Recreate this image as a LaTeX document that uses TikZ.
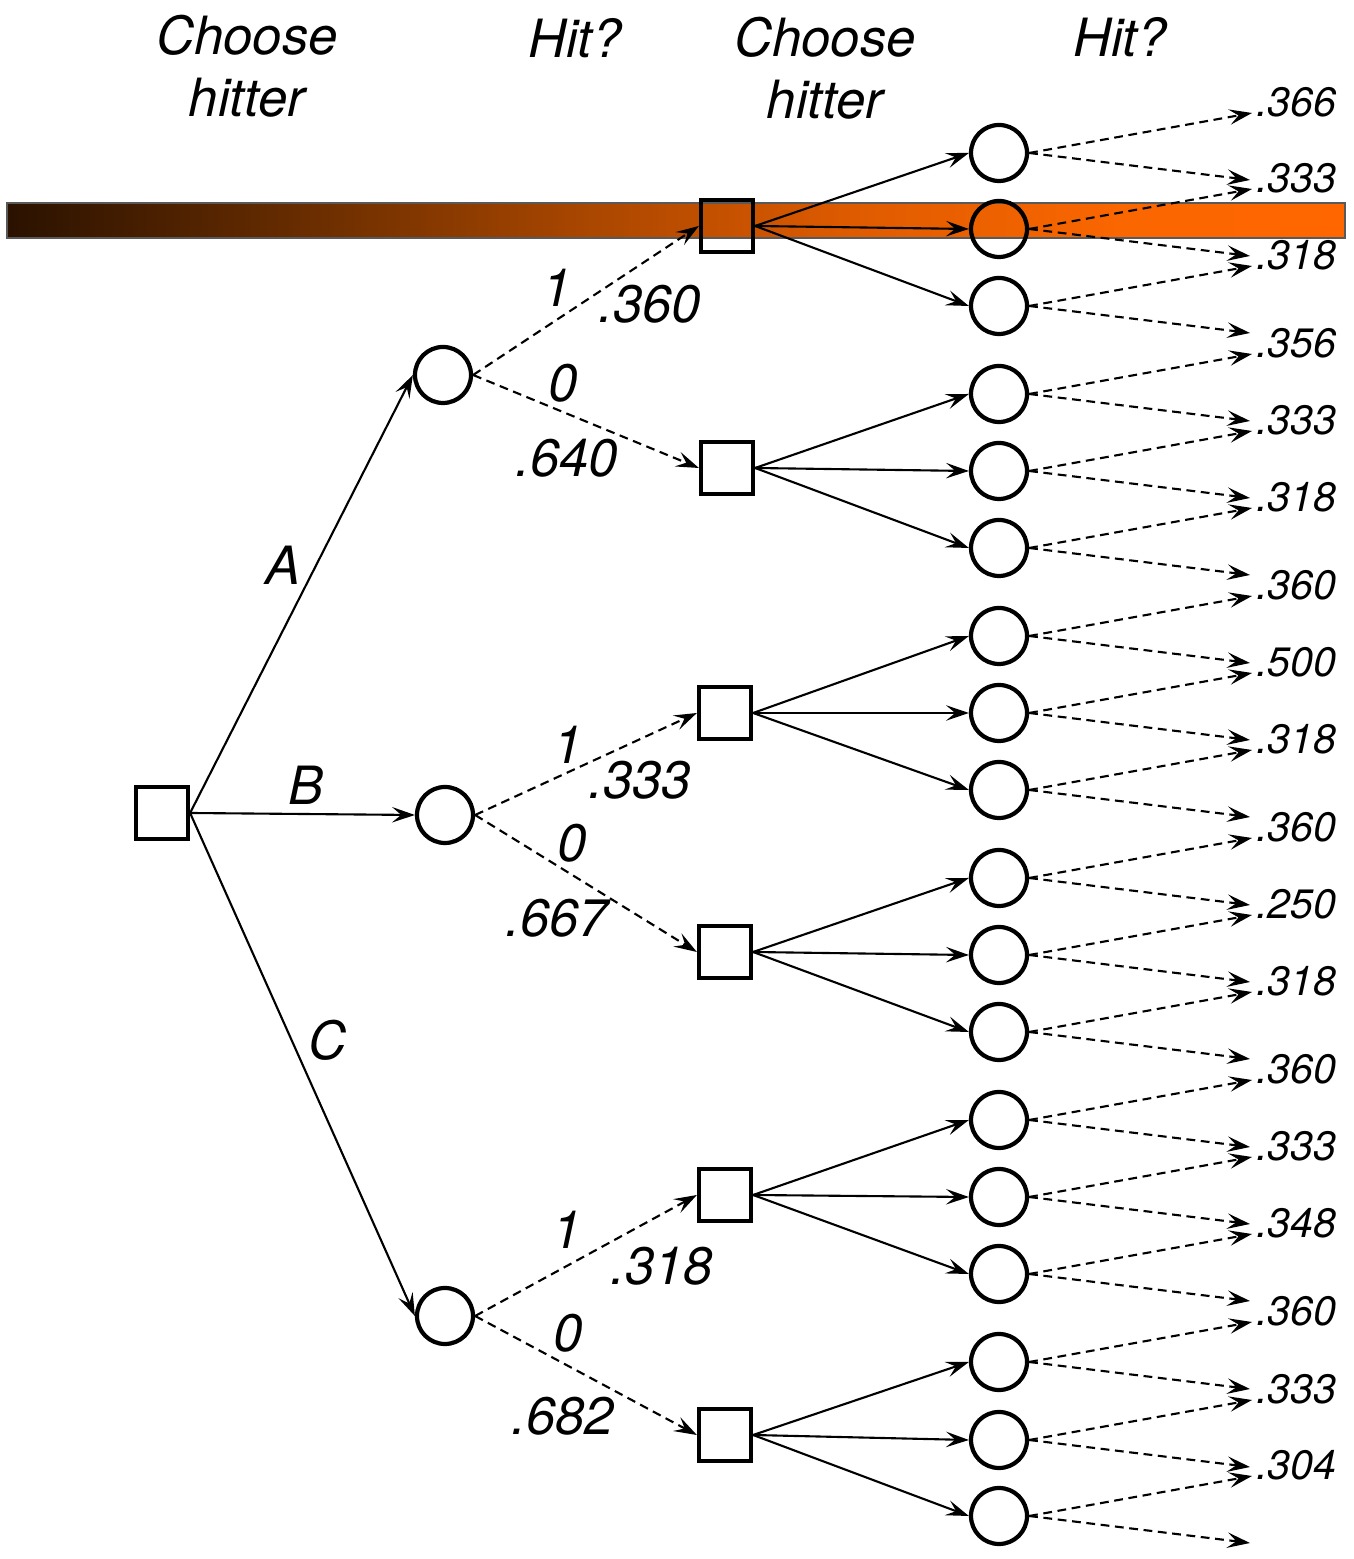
\documentclass[tikz,border=0pt]{standalone}
\usepackage{fontspec}
\setmainfont{TeX Gyre Heros}
\usetikzlibrary{arrows.meta}

% Farbverlauf fuer den Balken: dunkelbraun nach orange (Pfad liegt zwischen 25bp und 75bp)
\pgfdeclarehorizontalshading{balken}{100bp}{rgb(0bp)=(0.165,0.07,0); rgb(25bp)=(0.165,0.07,0); rgb(36.5bp)=(0.42,0.18,0); rgb(46.5bp)=(0.66,0.275,0); rgb(57bp)=(0.88,0.36,0); rgb(66.5bp)=(0.98,0.40,0); rgb(75bp)=(1,0.40,0); rgb(100bp)=(1,0.40,0)}

\tikzset{
  entscheid/.style={draw, rectangle, minimum size=0.52cm, inner sep=0pt, line width=1.2pt},
  zufall/.style={draw, circle, minimum size=0.56cm, inner sep=0pt, line width=1.2pt},
  gestr/.style={dash pattern=on 2.5pt off 1.6pt},
  kopf/.style={font=\fontsize{15}{17.6}\selectfont\itshape, align=center},
  kante/.style={font=\fontsize{15}{18}\selectfont\itshape, inner sep=0pt},
  wert/.style={font=\fontsize{11.7}{14}\selectfont\itshape, inner sep=0pt, anchor=west}
}

\begin{document}
\begin{tikzpicture}[>={Stealth[length=6.5pt,width=4.4pt,inset=2.6pt]}, line width=0.6pt]
\useasboundingbox (0,0) rectangle (13.53,15.59);

% Balken hinter dem oberen Ast
\shadedraw[shading=balken, draw=black!65, line width=0.4pt] (0.07,13.21) rectangle (13.45,13.56);

% Spaltenueberschriften
\node[kopf] (k1) at (2.47,14.93) {Choose\\hitter};
\node[kopf] (k2) at (5.75,15.21) {Hit?};
\node[kopf] (k3) at (8.25,14.91) {Choose\\hitter};
\node[kopf] (k4) at (11.20,15.22) {Hit?};

% erste Wahl und Treffer
\node[entscheid] (root) at (1.62,7.46) {};
\node[zufall] (h1) at (4.43,11.84) {};
\node[zufall] (h2) at (4.45,7.44) {};
\node[zufall] (h3) at (4.45,2.43) {};

% zweite Wahl
\node[entscheid] (s1) at (7.27,13.33) {};
\node[entscheid] (s2) at (7.27,10.91) {};
\node[entscheid] (s3) at (7.25,8.46) {};
\node[entscheid] (s4) at (7.25,6.07) {};
\node[entscheid] (s5) at (7.25,3.64) {};
\node[entscheid] (s6) at (7.25,1.24) {};

\draw[->] (root.east) -- (h1.west);
\draw[->] (root.east) -- (h2.west);
\draw[->] (root.east) -- (h3.west);
\node[kante] (lA) at (2.83,9.94) {A};
\node[kante] (lB) at (3.06,7.74) {B};
\node[kante] (lC) at (3.28,5.19) {C};

\draw[->, gestr] (h1.east) -- (s1.west);
\draw[->, gestr] (h1.east) -- (s2.west);
\draw[->, gestr] (h2.east) -- (s3.west);
\draw[->, gestr] (h2.east) -- (s4.west);
\draw[->, gestr] (h3.east) -- (s5.west);
\draw[->, gestr] (h3.east) -- (s6.west);

\node[kante] (e1) at (5.57,12.71) {1};
\node[kante] (p1) at (6.50,12.55) {.360};
\node[kante] (n1) at (5.63,11.76) {0};
\node[kante] (q1) at (5.67,11.01) {.640};
\node[kante] (e2) at (5.68,8.14) {1};
\node[kante] (p2) at (6.40,7.79) {.333};
\node[kante] (n2) at (5.72,7.16) {0};
\node[kante] (q2) at (5.57,6.41) {.667};
\node[kante] (e3) at (5.67,3.29) {1};
\node[kante] (p3) at (6.62,2.93) {.318};
\node[kante] (n3) at (5.68,2.26) {0};
\node[kante] (q3) at (5.63,1.43) {.682};

% letzte Treffer-Knoten mit ihren Enden
\foreach \y [count=\i] in {14.06,13.30,12.53,11.65,10.88,10.11,9.23,8.46,7.69,6.81,6.04,5.27,4.39,3.62,2.85,1.97,1.19,0.43} {
  \node[zufall] (c\i) at (9.99,\y) {};
  \coordinate (o\i) at (12.52,\y+0.40);
  \coordinate (u\i) at (12.50,\y-0.27);
  \draw[->, gestr] (c\i.east) -- (o\i);
  \draw[->, gestr] (c\i.east) -- (u\i);
}

\foreach \k in {1,...,6}
  \foreach \j in {0,1,2} {
    \pgfmathtruncatemacro{\n}{3*\k-2+\j}
    \draw[->] (s\k.east) -- (c\n.west);
  }

% Trefferquoten an den Pfeilspitzen
\foreach \p [count=\i] in {.366,.333,.318,.356,.333,.318,.360,.500,.318,.360,.250,.318,.360,.333,.348,.360,.333,.304}
  \node[wert] (w\i) at ([xshift=0.03cm, yshift=0.11cm]o\i) {\p};

\end{tikzpicture}
\end{document}
